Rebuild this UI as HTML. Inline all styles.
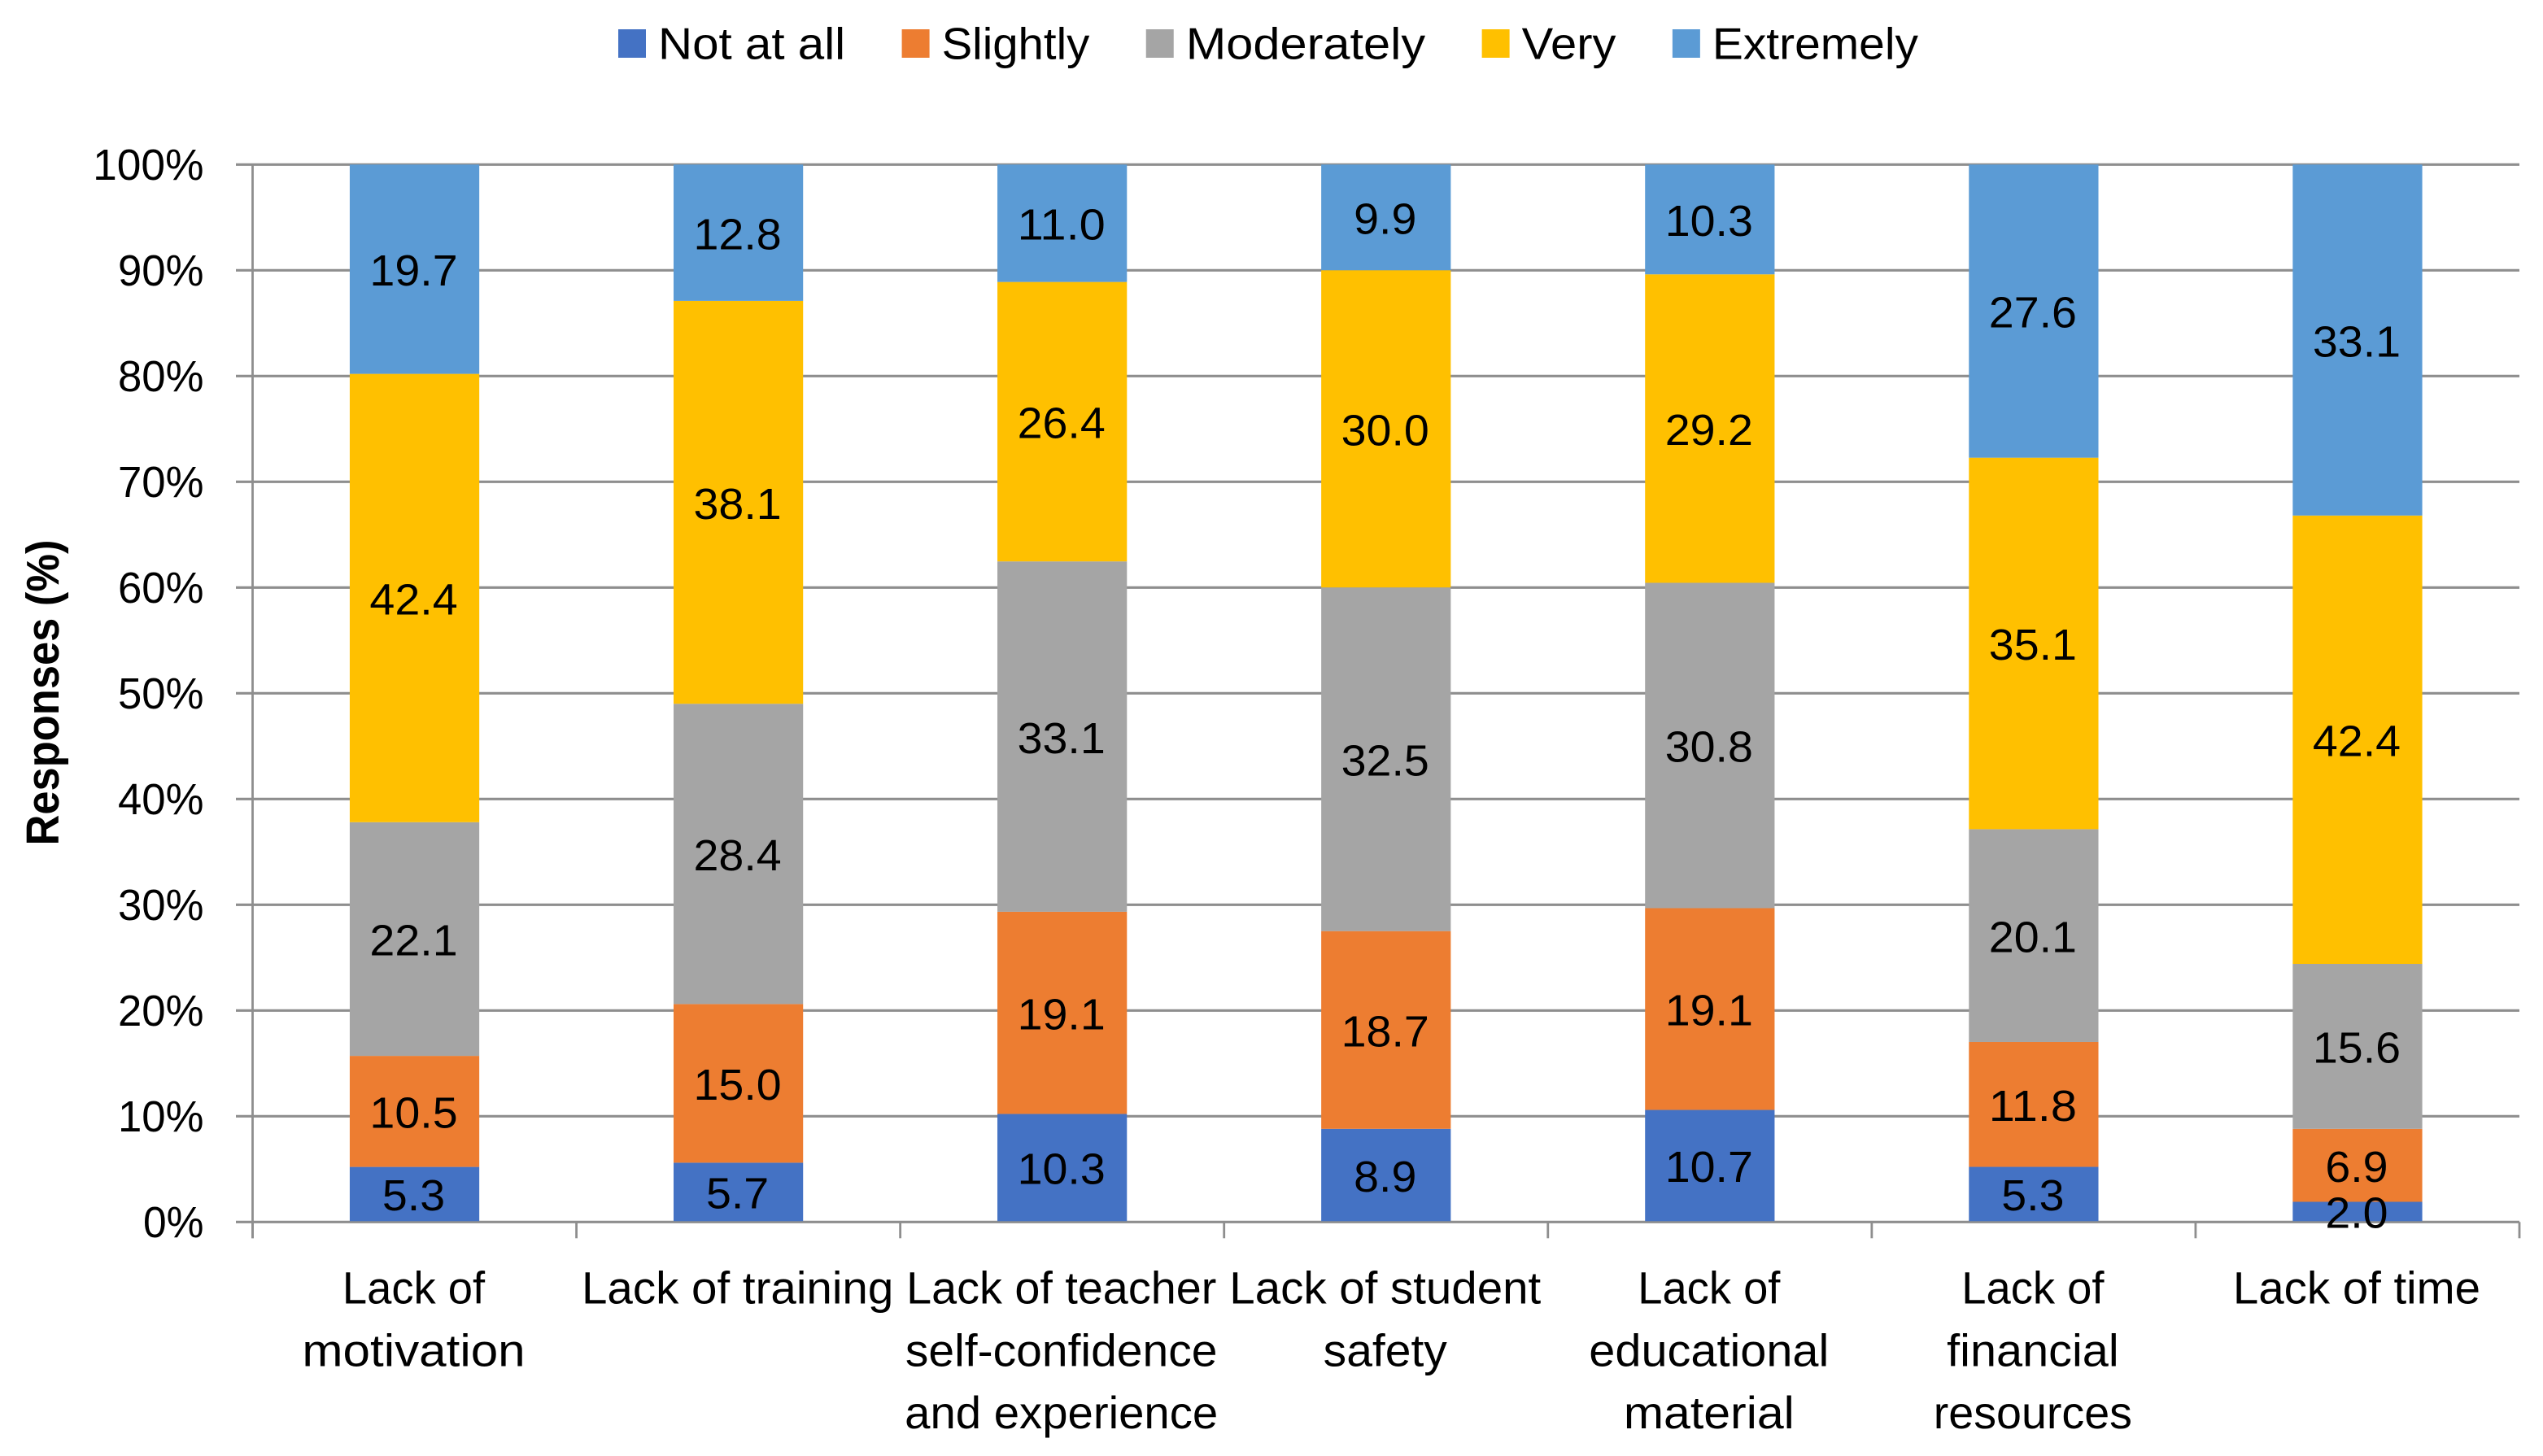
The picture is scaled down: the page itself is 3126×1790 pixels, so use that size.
<!DOCTYPE html>
<html lang="en">
<head>
<meta charset="utf-8">
<title>Responses by barrier</title>
<style>
html,body{margin:0;padding:0;background:#fff;width:3126px;height:1790px;overflow:hidden}
svg{display:block}
text{font-family:"Liberation Sans",sans-serif;fill:#000}
</style>
</head>
<body>
<svg id="chart" xmlns="http://www.w3.org/2000/svg" width="3126" height="1790" viewBox="0 0 3126 1790">
  <g id="grid"></g>
  <g id="bars"></g>
  <g id="axes"></g>
  <g id="labels"></g>
  <g id="legend"></g>
</svg>
<script>
const categories = [
  ['Lack of', 'motivation'],
  ['Lack of training'],
  ['Lack of teacher', 'self-confidence', 'and experience'],
  ['Lack of student', 'safety'],
  ['Lack of', 'educational', 'material'],
  ['Lack of', 'financial', 'resources'],
  ['Lack of time']
];
const seriesNames = ['Not at all', 'Slightly', 'Moderately', 'Very', 'Extremely'];
const notAtAll = [5.3, 5.7, 10.3, 8.9, 10.7, 5.3, 2.0];
const slightly = [10.5, 15.0, 19.1, 18.7, 19.1, 11.8, 6.9];
const moderately = [22.1, 28.4, 33.1, 32.5, 30.8, 20.1, 15.6];
const very = [42.4, 38.1, 26.4, 30.0, 29.2, 35.1, 42.4];
const extremely = [19.7, 12.8, 11.0, 9.9, 10.3, 27.6, 33.1];
const yTicks = [0, 10, 20, 30, 40, 50, 60, 70, 80, 90, 100];
const yTitle = 'Responses (%)';

const seriesValues = [notAtAll, slightly, moderately, very, extremely];
const seriesColors = ['#4472c4', '#ed7d31', '#a5a5a5', '#ffc000', '#5b9bd5'];
const NS = 'http://www.w3.org/2000/svg';
const plot = {left: 310.5, right: 3097, top: 202.3, bottom: 1502.3};
const axisColor = '#8e8e8e';

/* advance widths (em) of the humanist face in the reference; used to fit Liberation glyphs */
const adv = {' ':.226,'.':.252,'%':.715,'(':.303,')':.303,'-':.306,
  a:.479,b:.525,c:.423,d:.525,e:.498,f:.305,g:.471,h:.525,i:.229,j:.239,k:.455,l:.229,m:.799,
  n:.525,o:.527,p:.525,q:.525,r:.349,s:.391,t:.335,u:.525,v:.452,w:.715,x:.433,y:.453,z:.395,
  L:.42,N:.646,S:.459,M:.855,V:.567,E:.488,R:.543};
function fitWidth(str, size) {
  let w = 0;
  for (const c of str) w += (c >= '0' && c <= '9') ? .507 : (adv[c] || .5);
  return w * size;
}
const xBand = (plot.right - plot.left) / categories.length;
const xCenter = i => plot.left + xBand * (i + 0.5);
const barWidth = xBand / 2.5;
const yScale = v => plot.bottom - (v / 100) * (plot.bottom - plot.top);
/* interior segment boundaries sit just below the gridline scale in the reference */
const yBar = v => (v <= 0.001 || v >= 99.999) ? yScale(v) - (v <= 0.001 ? 1 : 0) : yScale(v) + 1.2;

function make(tag, attrs, parent) {
  const el = document.createElementNS(NS, tag);
  for (const k in attrs) el.setAttribute(k, attrs[k]);
  parent.appendChild(el);
  return el;
}
function makeText(str, x, y, glyphSize, fitSize, anchor, parent) {
  const el = make('text', {x: x, y: y, 'font-size': glyphSize, 'text-anchor': anchor,
    textLength: fitWidth(str, fitSize).toFixed(1), lengthAdjust: 'spacingAndGlyphs'}, parent);
  el.textContent = str;
  return el;
}

const gGrid = document.getElementById('grid');
const gBars = document.getElementById('bars');
const gAxes = document.getElementById('axes');
const gLabels = document.getElementById('labels');
const gLegend = document.getElementById('legend');

/* gridlines + y tick labels */
yTicks.forEach(t => {
  const line = make('line', {x1: 290, x2: plot.right, y1: yScale(t), y2: yScale(t), stroke: axisColor, 'stroke-width': 3.2}, gGrid);
  
  
  const lab = makeText(t + '%', 250.5, yScale(t) + 18.7, 54, 61, 'end', gAxes);
  
  
});

/* y axis line */
const yAxis = make('line', {x1: plot.left, x2: plot.left, y1: plot.top, y2: plot.bottom + 20, stroke: axisColor, 'stroke-width': 2.8}, gAxes);



/* x ticks */
for (let i = 0; i <= categories.length; i++) {
  const x = plot.left + xBand * i;
  const tick = make('line', {x1: x, x2: x, y1: plot.bottom, y2: plot.bottom + 20, stroke: axisColor, 'stroke-width': 2.8}, gAxes);
  
  
}

/* category labels */
categories.forEach((lines, i) => {
  lines.forEach((ln, j) => {
    const t = makeText(ln, xCenter(i) - 1, 1602.7 + j * 76.7, 56, 61.8, 'middle', gAxes);
    
    
  });
});

/* stacked bars, normalised to 100% */
categories.forEach((c, i) => {
  const total = seriesValues.reduce((s, arr) => s + arr[i], 0);
  let cum = 0;
  seriesValues.forEach((arr, s) => {
    const v = arr[i];
    const y0 = yBar(cum / total * 100);
    const y1 = yBar((cum + v) / total * 100);
    const rect = make('rect', {x: xCenter(i) - barWidth / 2, y: y1, width: barWidth, height: y0 - y1, fill: seriesColors[s]}, gBars);
    
    
    const lab = makeText(v.toFixed(1), xCenter(i) - 1, (y0 + y1) / 2 + 20.2, 54, 61, 'middle', gLabels);
    
    
    cum += v;
  });
});

/* legend */
let lx = 760;
seriesNames.forEach((name, s) => {
  const sw = make('rect', {x: lx, y: 36, width: 34, height: 35, fill: seriesColors[s]}, gLegend);
  
  
  const t = makeText(name, lx + 49, 72.7, 55, 62, 'start', gLegend);
  
  
  lx += 49 + fitWidth(name, 62) + 69.5;
});

/* y axis title */
const title = makeText(yTitle, 0, 0, 57, 61, 'middle', gAxes);
title.setAttribute('transform', 'translate(72 851.5) rotate(-90)');
title.setAttribute('font-weight', 'bold');
title.setAttribute('textLength', '376');


</script>
</body>
</html>
